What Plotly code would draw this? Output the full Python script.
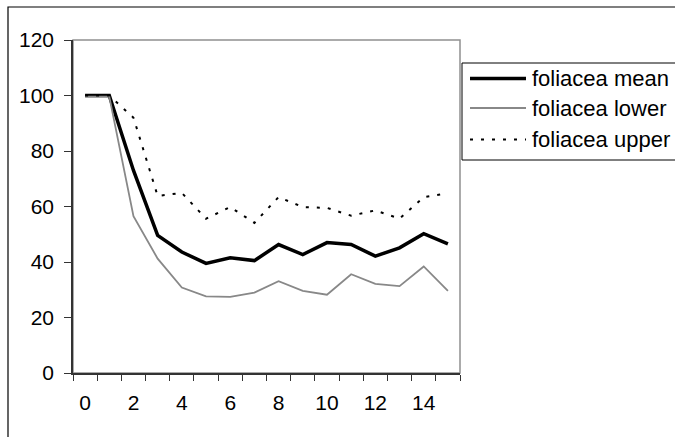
import plotly.graph_objects as go

days = list(range(16))
tick_vals = [0, 2, 4, 6, 8, 10, 12, 14]
tick_text = ["0", "2", "4", "6", "8", "10", "12", "14"]

mean_vals = [100, 100, 73.0, 49.6, 43.6, 39.5, 41.5, 40.5, 46.3, 42.7, 47.0, 46.3, 42.1, 45.1, 50.2, 46.5]
lower_vals = [99.6, 99.6, 56.5, 41.2, 30.8, 27.6, 27.4, 29.0, 33.1, 29.6, 28.2, 35.6, 32.1, 31.3, 38.4, 29.6]
upper_vals = [100, 100, 92.0, 63.8, 64.9, 55.6, 59.8, 54.1, 63.4, 59.8, 59.5, 56.7, 58.6, 55.6, 63.4, 64.8]

series_names = ["foliacea mean", "foliacea lower", "foliacea upper"]
series_vals = [mean_vals, lower_vals, upper_vals]
series_lines = [
    dict(color="black", width=3.5),
    dict(color="#888888", width=1.8),
    dict(color="black", width=2, dash="3px,8px"),
]

W, H = 675, 437
ML, MR, MT, MB = 73, 215, 40, 64
PW = W - ML - MR
PH = H - MT - MB

def px_x(p):
    return (p - ML) / PW

def px_y(p):
    return 1 - (p - MT) / PH

FONT = "Liberation Sans, Arial, sans-serif"

fig = go.Figure()
for name, vals, ln in zip(series_names, series_vals, series_lines):
    fig.add_trace(go.Scatter(x=days, y=vals, mode="lines", name=name, line=ln,
                             showlegend=False))

# Manual legend (box, line samples, labels)
shapes = [
    dict(type="rect", xref="paper", yref="paper", x0=0, x1=1, y0=0, y1=1,
         line=dict(color="#909090", width=1.5), layer="below"),
    dict(type="rect", xref="paper", yref="paper",
         x0=px_x(8), x1=px_x(W + 20), y0=px_y(H + 20), y1=px_y(7),
         line=dict(color="black", width=1.2), layer="below"),
    dict(type="rect", xref="paper", yref="paper",
         x0=px_x(462), x1=px_x(W + 20), y0=px_y(160), y1=px_y(63),
         line=dict(color="black", width=1), fillcolor="white", layer="below"),
]
annotations = []
row_y = [78.5, 108, 139.5]
for name, ln, ry in zip(series_names, series_lines, row_y):
    shapes.append(dict(type="line", xref="paper", yref="paper",
                       x0=px_x(470), x1=px_x(526), y0=px_y(ry), y1=px_y(ry),
                       line=ln, layer="above"))
    annotations.append(dict(xref="paper", yref="paper", x=px_x(530), y=px_y(ry),
                            xanchor="left", yanchor="middle", text=name, showarrow=False,
                            font=dict(family=FONT, size=22, color="black")))

fig.update_layout(
    width=W, height=H,
    margin=dict(l=ML, r=MR, t=MT, b=MB, pad=0),
    paper_bgcolor="white", plot_bgcolor="white",
    font=dict(family=FONT, size=21, color="black"),
    showlegend=False,
    xaxis=dict(
        range=[-0.5, 15.5], tickmode="array", tickvals=tick_vals, ticktext=tick_text,
        ticks="", showgrid=False, zeroline=False,
        showline=True, linecolor="#333333", linewidth=1.5,
        ticklabelstandoff=10,
        minor=dict(tickmode="linear", tick0=0.5, dtick=1, ticks="outside",
                   ticklen=6, tickcolor="#333333", tickwidth=1.2, showgrid=False),
    ),
    yaxis=dict(
        range=[0, 120], tickmode="linear", tick0=0, dtick=20,
        ticks="outside", ticklen=7, tickcolor="#333333", tickwidth=1.2,
        showgrid=False, zeroline=False,
        showline=True, linecolor="#333333", linewidth=1.5,
        ticklabelstandoff=6,
    ),
    shapes=shapes,
    annotations=annotations,
)

fig.write_html("out.html")
